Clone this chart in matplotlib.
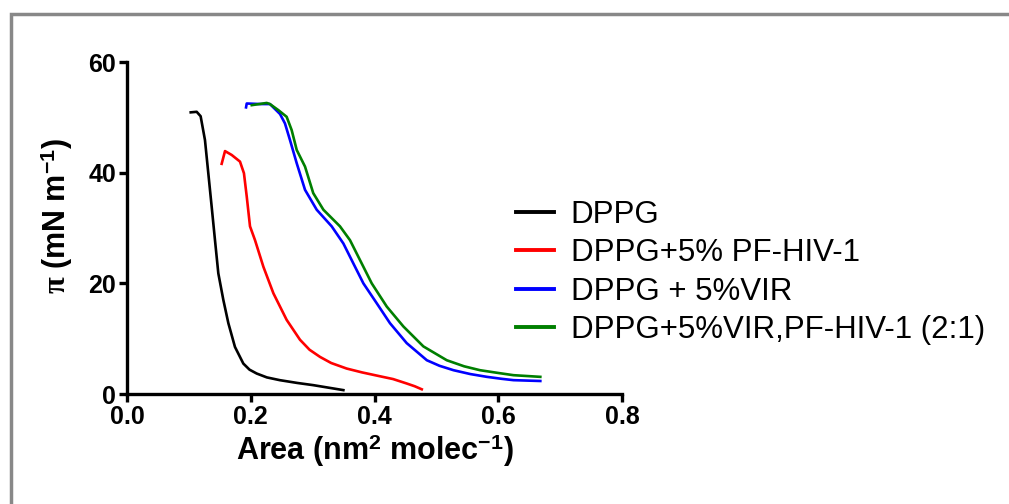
import matplotlib
matplotlib.use("Agg")
import matplotlib.pyplot as plt
from matplotlib.patches import Rectangle

plt.rcParams['font.family'] = ['Liberation Sans', 'DejaVu Sans']
plt.rcParams['mathtext.fontset'] = 'custom'
plt.rcParams['mathtext.rm'] = 'Liberation Sans'
plt.rcParams['mathtext.bf'] = 'Liberation Sans:bold'
plt.rcParams['mathtext.it'] = 'Liberation Serif:bold'

# isotherm curves (area in nm^2/molec, pressure in mN/m)
dppg_x = [0.103, 0.1126, 0.119, 0.126, 0.1314, 0.1368, 0.1422, 0.1476, 0.1557, 0.1638,
          0.1745, 0.188, 0.198, 0.2096, 0.226, 0.247, 0.275, 0.301, 0.3335, 0.3497]
dppg_y = [50.9, 51.0, 50.2, 45.9, 39.9, 33.9, 27.8, 21.8, 17.0, 12.8,
          8.5, 5.5, 4.4, 3.7, 3.0, 2.5, 2.0, 1.6, 1.0, 0.7]

pf_x = [0.153, 0.1584, 0.1692, 0.1826, 0.189, 0.1935, 0.1988, 0.2069, 0.2204, 0.2366,
        0.258, 0.2796, 0.295, 0.312, 0.33, 0.355, 0.38, 0.409, 0.43, 0.452, 0.465, 0.4764]
pf_y = [41.6, 43.9, 43.2, 42.0, 39.9, 35.7, 30.3, 27.8, 23.0, 18.2,
        13.4, 9.8, 8.0, 6.7, 5.6, 4.6, 3.9, 3.2, 2.7, 1.9, 1.4, 0.85]

vir_x = [0.1924, 0.1935, 0.215, 0.231, 0.2392, 0.2473, 0.2553, 0.2634, 0.2743, 0.2877,
         0.3066, 0.3308, 0.3497, 0.3658, 0.382, 0.4036, 0.425, 0.452, 0.4846, 0.505,
         0.5277, 0.555, 0.5816, 0.605, 0.6247, 0.668]
vir_y = [51.8, 52.5, 52.4, 52.4, 51.5, 50.6, 48.9, 45.9, 41.7, 36.9,
         33.3, 30.3, 27.2, 23.6, 20.0, 16.4, 12.8, 9.2, 6.1, 5.1,
         4.3, 3.6, 3.1, 2.75, 2.5, 2.35]

mix_x = [0.2016, 0.2258, 0.231, 0.2446, 0.258, 0.2661, 0.2743, 0.2877, 0.301, 0.3174,
         0.3442, 0.3604, 0.3766, 0.3955, 0.4198, 0.4467, 0.479, 0.5168, 0.545, 0.5706,
         0.6, 0.6247, 0.668]
mix_y = [52.2, 52.6, 52.4, 51.3, 50.1, 47.7, 44.1, 41.1, 36.3, 33.3,
         30.3, 27.8, 24.2, 20.0, 15.8, 12.2, 8.6, 6.1, 5.0, 4.3,
         3.8, 3.4, 3.1]

labels = ['DPPG', 'DPPG+5% PF-HIV-1', 'DPPG + 5%VIR', 'DPPG+5%VIR,PF-HIV-1 (2:1)']
colors = ['black', '#ff0000', '#0000ff', '#007f00']

fig = plt.figure(figsize=(10.09, 5.04), dpi=100)
# grey frame around the picture
fig.patches.append(Rectangle((10.5 / 1009, -0.1), 1.2, (1 - 13.5 / 504) + 0.1,
                             transform=fig.transFigure, fill=False,
                             edgecolor='#888888', linewidth=2.5))

ax = fig.add_axes([127 / 1009, 1 - 394 / 504, (622 - 127) / 1009, (394 - 62) / 504])

series = [(dppg_x, dppg_y), (pf_x, pf_y), (vir_x, vir_y), (mix_x, mix_y)]
for (xs, ys), lab, col in zip(series, labels, colors):
    ax.plot(xs, ys, color=col, linewidth=1.9, label=lab)

ax.set_xlim(0, 0.8)
ax.set_ylim(0, 60)
ax.set_xticks([0.0, 0.2, 0.4, 0.6, 0.8])
ax.set_xticklabels(['0.0', '0.2', '0.4', '0.6', '0.8'])
ax.set_yticks([0, 20, 40, 60])

for side in ['top', 'right']:
    ax.spines[side].set_visible(False)
for side in ['left', 'bottom']:
    ax.spines[side].set_linewidth(2.4)
ax.tick_params(width=2.4, length=6, labelsize=18, pad=2)
for t in ax.get_xticklabels() + ax.get_yticklabels():
    t.set_fontweight('bold')

ax.set_xlabel(r'Area (nm$^{\mathbf{2}}$ molec$^{\mathbf{-1}}$)', fontsize=22,
              fontweight='bold', labelpad=2)
ax.set_ylabel(r'$\pi$ (mN m$^{\mathbf{-1}}$)', fontsize=22, fontweight='bold')
ax.yaxis.set_label_coords(-0.105, 0.535)

leg = ax.legend(loc='upper left', bbox_to_anchor=(516 / 1009, 1 - 200 / 504),
                bbox_transform=fig.transFigure, frameon=False, fontsize=22.5,
                handlelength=1.2, handletextpad=0.55, labelspacing=0.27,
                borderpad=0, borderaxespad=0)
for line in leg.get_lines():
    line.set_linewidth(2.8)

fig.savefig('out.png', dpi=100)
